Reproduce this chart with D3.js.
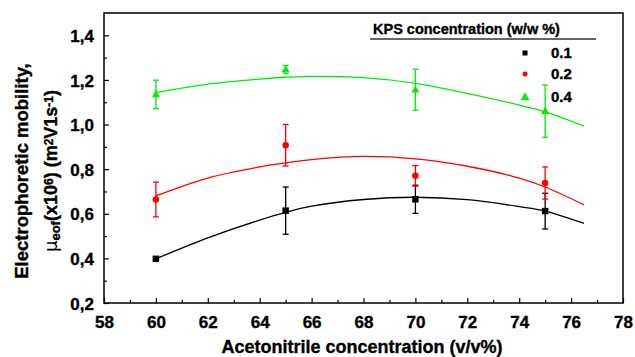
<!DOCTYPE html>
<html>
<head>
<meta charset="utf-8">
<script src="https://cdn.jsdelivr.net/npm/d3@7"></script>
<style>
  html, body { margin: 0; padding: 0; background: #fff; }
  svg { display: block; font-family: "Liberation Sans", Arial, sans-serif; }
  .heavy { stroke: #000; stroke-width: 0.35px; }
</style>
</head>
<body>
<svg id="chart" width="635" height="357"></svg>
<script>
// ---- data ----
const acnLevels = [60, 65, 70, 75];
const kpsLabels = ["0.1", "0.2", "0.4"];
const seriesColors = ["#000000", "#ff0000", "#00ee00"];
const seriesMarkers = ["square", "circle", "triangle"];

const mean01 = [0.398, 0.614, 0.665, 0.612];
const err01  = [0.010, 0.106, 0.063, 0.080];
const mean02 = [0.664, 0.907, 0.770, 0.738];
const err02  = [0.078, 0.093, 0.046, 0.072];
const mean04 = [1.135, 1.247, 1.156, 1.060];
const err04  = [0.064, 0.018, 0.092, 0.117];

// fitted curves
const fitX   = [60, 62, 64, 65, 66, 68, 70, 72, 74, 75, 76.5];
const fit01  = [0.398, 0.492, 0.572, 0.606, 0.634, 0.664, 0.674, 0.663, 0.632, 0.612, 0.557];
const fit02  = [0.680, 0.760, 0.810, 0.828, 0.843, 0.857, 0.846, 0.813, 0.760, 0.720, 0.640];
const fit04  = [1.143, 1.181, 1.204, 1.212, 1.216, 1.210, 1.185, 1.140, 1.087, 1.057, 0.993];

const xTicks = [58, 60, 62, 64, 66, 68, 70, 72, 74, 76, 78];
const yTicks = [0.2, 0.4, 0.6, 0.8, 1.0, 1.2, 1.4];

const means = [mean01, mean02, mean04];
const errs = [err01, err02, err04];
const fits = [fit01, fit02, fit04];

// ---- layout ----
const svg = d3.select("#chart");
const L = 104, R = 623, T = 13, B = 303;
const x = d3.scaleLinear().domain([58, 78]).range([L, R]);
const y = d3.scaleLinear().domain([0.2, 1.5]).range([B, T]);

const fmt = d => d3.format(".1f")(d).replace(".", ",");

// minor ticks
const xMinor = d3.range(59, 78, 2);
const yMinor = d3.range(0.3, 1.5, 0.2);

const gx = svg.append("g").attr("transform", `translate(0,${B})`)
  .call(d3.axisBottom(x).tickValues(xTicks).tickSizeInner(-5).tickSizeOuter(0).tickFormat(d3.format("d")));
gx.select(".domain").remove();
gx.selectAll("text").attr("dy", null).attr("y", 25).attr("class", "heavy")
  .style("font-size", "17px").style("font-weight", "bold").attr("fill", "#000");
gx.selectAll("line").attr("stroke", "#000").attr("stroke-width", 1.2);
svg.append("g").attr("transform", `translate(0,${B})`)
  .call(d3.axisBottom(x).tickValues(xMinor).tickSizeInner(-3).tickSizeOuter(0).tickFormat(""))
  .call(g => g.select(".domain").remove())
  .selectAll("line").attr("stroke", "#000").attr("stroke-width", 1.2);

const gy = svg.append("g").attr("transform", `translate(${L},0)`)
  .call(d3.axisLeft(y).tickValues(yTicks).tickSizeInner(-5).tickSizeOuter(0).tickFormat(fmt));
gy.select(".domain").remove();
gy.selectAll("text").attr("x", -10).attr("dy", "0.36em").attr("class", "heavy")
  .style("font-size", "17px").style("font-weight", "bold").attr("fill", "#000");
gy.selectAll("line").attr("stroke", "#000").attr("stroke-width", 1.2);
svg.append("g").attr("transform", `translate(${L},0)`)
  .call(d3.axisLeft(y).tickValues(yMinor).tickSizeInner(-3).tickSizeOuter(0).tickFormat(""))
  .call(g => g.select(".domain").remove())
  .selectAll("line").attr("stroke", "#000").attr("stroke-width", 1.2);

// frame
svg.append("rect").attr("x", L).attr("y", T).attr("width", R - L).attr("height", B - T)
  .attr("fill", "none").attr("stroke", "#000").attr("stroke-width", 1.5);

// fitted curves
const line = d3.line().x(d => x(d[0])).y(d => y(d[1])).curve(d3.curveCatmullRom.alpha(0.5));
fits.forEach((f, i) => {
  svg.append("path").datum(fitX.map((v, j) => [v, f[j]]))
    .attr("d", line).attr("fill", "none").attr("stroke", seriesColors[i]).attr("stroke-width", 1.3);
});

// error bars + markers
function marker(g, type, cx, cy, color, s) {
  if (type === "square") {
    g.append("rect").attr("x", cx - s / 2).attr("y", cy - s / 2).attr("width", s).attr("height", s).attr("fill", color);
  } else if (type === "circle") {
    g.append("circle").attr("cx", cx).attr("cy", cy).attr("r", s / 2).attr("fill", color);
  } else {
    const h = s * 0.9;
    g.append("path").attr("d", `M${cx},${cy - h * 0.6}L${cx + s / 2},${cy + h * 0.4}L${cx - s / 2},${cy + h * 0.4}Z`).attr("fill", color);
  }
}
means.forEach((m, i) => {
  const g = svg.append("g");
  const c = seriesColors[i];
  acnLevels.forEach((a, j) => {
    const cx = x(a), y1 = y(m[j] + errs[i][j]), y2 = y(m[j] - errs[i][j]);
    g.append("line").attr("x1", cx).attr("x2", cx).attr("y1", y1).attr("y2", y2).attr("stroke", c).attr("stroke-width", 1.3);
    [y1, y2].forEach(yy => g.append("line").attr("x1", cx - 3).attr("x2", cx + 3).attr("y1", yy).attr("y2", yy).attr("stroke", c).attr("stroke-width", 1.3));
    marker(g, seriesMarkers[i], cx, y(m[j]), c, seriesMarkers[i] === "triangle" ? 8 : 6.5);
  });
});

// legend
const lg = svg.append("g");
lg.append("text").attr("x", 373).attr("y", 34).text("KPS concentration (w/w %)").attr("class", "heavy")
  .style("font-size", "14.5px").style("font-weight", "bold");
lg.append("line").attr("x1", 370).attr("x2", 596).attr("y1", 39).attr("y2", 39).attr("stroke", "#333").attr("stroke-width", 1.3);
const legY = [53, 74, 97];
kpsLabels.forEach((lab, i) => {
  marker(lg, seriesMarkers[i], 525, legY[i], seriesColors[i], seriesMarkers[i] === "triangle" ? 9 : 5);
  lg.append("text").attr("x", 551).attr("y", legY[i] + 5).text(lab).attr("class", "heavy")
    .style("font-size", "15px").style("font-weight", "bold");
});

// axis titles
svg.append("text").attr("x", 362).attr("y", 353).attr("text-anchor", "middle").attr("class", "heavy")
  .style("font-size", "18px").style("font-weight", "bold").text("Acetonitrile concentration (v/v%)");

svg.append("text").attr("transform", "translate(28,171) rotate(-90)").attr("text-anchor", "middle").attr("class", "heavy")
  .style("font-size", "18.5px").style("font-weight", "bold").text("Electrophoretic mobility,");

const t2 = svg.append("text").attr("transform", "translate(57,171) rotate(-90)").attr("text-anchor", "middle").attr("class", "heavy")
  .style("font-size", "18px").style("font-weight", "bold");
t2.append("tspan").style("font-weight", "normal").style("stroke-width", "0").style("font-family", "DejaVu Sans").text("μ");
t2.append("tspan").attr("baseline-shift", "-25%").style("font-size", "13px").text("eof");
t2.append("tspan").text("(x10");
t2.append("tspan").attr("baseline-shift", "35%").style("font-size", "12px").text("6");
t2.append("tspan").text(") (m");
t2.append("tspan").attr("baseline-shift", "35%").style("font-size", "12px").text("2");
t2.append("tspan").text("V1s");
t2.append("tspan").attr("baseline-shift", "35%").style("font-size", "12px").text("-1");
t2.append("tspan").text(")");
</script>
</body>
</html>
